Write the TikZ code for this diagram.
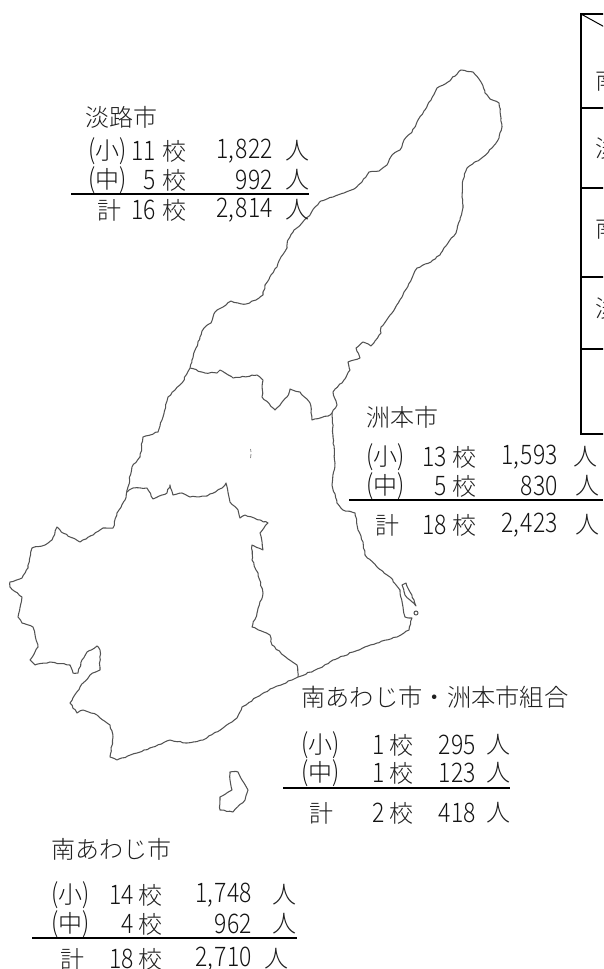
\documentclass[tikz,border=0pt]{standalone}
\usepackage{fontspec}
\usetikzlibrary{decorations.pathmorphing}
\newfontfamily\jpf{Noto Sans CJK JP Light}
\newfontfamily\numf[FakeStretch=0.85]{Noto Sans CJK JP Light}
\newcommand{\kj}[1]{{\fontsize{24}{25}\jpf #1}}
\newcommand{\cm}{,\kern1.5pt }
\tikzset{
  coast/.style={draw=black!68,line width=1.05pt,line join=round,decorate,decoration={random steps,segment length=3.2pt,amplitude=0.6pt}},
  rulel/.style={draw=black,line width=1.6pt},
  tbl/.style={draw=black,line width=1.5pt},
  jt/.style={inner sep=0pt,font=\fontsize{24}{25}\jpf,text=black!88},
  nt/.style={inner sep=0pt,font=\fontsize{27}{28}\numf,text=black!92},
}
\begin{document}
\begin{tikzpicture}[x=1pt,y=-1pt]
\useasboundingbox (0,0) rectangle (603,969);
\begin{scope}
\clip (0,0) rectangle (603,969);
% map
\path[coast] (190,368) -- (192,360) -- (196,348) -- (200,337) -- (204,328) -- (211,323) -- (215,312) -- (223,307) -- (231,301) -- (238,303) -- (246,304) -- (256,300) -- (263,295) -- (265,285) -- (271,275) -- (277,267) -- (281,257) -- (287,248) -- (288,240) -- (294,230) -- (302,223) -- (310,215) -- (315,207) -- (321,201) -- (333,197) -- (344,193) -- (354,189) -- (362,182) -- (369,172) -- (379,171) -- (387,165) -- (392,155) -- (400,150) -- (404,140) -- (412,132) -- (417,122) -- (425,110) -- (431,100) -- (437,88) -- (448,82) -- (461,70) -- (473,72) -- (481,82) -- (485,93) -- (490,99) -- (499,103) -- (501,118) -- (502,127) -- (499,138) -- (492,148) -- (483,157) -- (467,168) -- (463,180) -- (462,197) -- (463,205) -- (460,220) -- (456,233) -- (448,243) -- (440,255) -- (431,262) -- (417,268) -- (412,278) -- (402,297) -- (392,313) -- (381,327) -- (381,333) -- (371,346) -- (363,342) -- (356,348) -- (360,358) -- (348,362) -- (350,370) -- (344,380) -- (333,392) -- (337,405) -- (332,413) -- (333,437) -- (335,463) -- (332,485) -- (337,503) -- (343,510) -- (355,513) -- (358,530) -- (363,542) -- (365,555) -- (377,567) -- (390,577) -- (400,590) -- (403,607) -- (405,617) -- (412,618) -- (409,630) -- (397,637) -- (377,643) -- (353,652) -- (333,660) -- (320,668) -- (298,677) -- (292,680) -- (273,688) -- (257,697) -- (242,707) -- (237,718) -- (223,728) -- (203,740) -- (187,743) -- (170,740) -- (153,747) -- (137,753) -- (117,760) -- (110,757) -- (113,737) -- (110,725) -- (97,715) -- (83,710) -- (77,713) -- (70,703) -- (80,687) -- (90,675) -- (100,670) -- (100,650) -- (97,646) -- (87,652) -- (82,660) -- (78,673) -- (73,673) -- (70,665) -- (50,662) -- (35,665) -- (30,660) -- (35,652) -- (38,647) -- (33,627) -- (22,623) -- (18,617) -- (22,597) -- (10,587) -- (10,582) -- (22,578) -- (28,568) -- (32,548) -- (45,545) -- (52,540) -- (57,527) -- (63,533) -- (80,542) -- (93,535) -- (103,528) -- (113,528) -- (117,513) -- (125,500) -- (128,487) -- (132,467) -- (140,457) -- (143,437) -- (158,432) -- (163,417) -- (168,397) -- (182,383) -- cycle;
% boundaries
\path[coast] (190,368) -- (205,373) -- (217,373) -- (220,370) -- (233,378) -- (257,375) -- (263,380) -- (262,397) -- (275,410) -- (287,397) -- (290,389) -- (300,392) -- (310,403) -- (312,420) -- (330,415) -- (332,413);
\path[coast] (127,492) -- (133,488) -- (147,488) -- (153,499) -- (167,493) -- (170,485) -- (173,495) -- (182,493) -- (190,497) -- (207,496) -- (222,488) -- (226,483) -- (230,502) -- (238,510) -- (240,518) -- (245,515) -- (268,523) -- (260,533) -- (263,550) -- (252,545) -- (252,560) -- (258,573) -- (263,593) -- (257,613) -- (252,627) -- (270,635) -- (272,645) -- (283,655) -- (297,665) -- (298,677);
% islets
\path[coast] (402,585) -- (406,583) -- (410,592) -- (414,600) -- (416,606) -- (410,600) -- (405,595) -- cycle;
\draw[black!68,line width=1pt] (416,613) circle (2);
\path[coast] (230,772) -- (238,772) -- (248,790) -- (245,800) -- (233,812) -- (220,810) -- (220,797) -- (232,790) -- (230,780) -- cycle;
\draw[black!45,line width=0.8pt] (250.5,449) -- (251,452) (251,454) -- (250.5,458);
% table
\draw[tbl] (581,14) rectangle (620,434);
\draw[tbl] (581,108) -- (620,108) (581,188) -- (620,188) (581,277) -- (620,277) (581,349) -- (620,349);
\draw[line width=1pt] (581,14) -- (610,30);
\node[jt,anchor=west] (t1) at (595,80) {南};
\node[jt,anchor=west] (t2) at (595,148) {淡};
\node[jt,anchor=west] (t3) at (595,228) {南};
\node[jt,anchor=west] (t4) at (595,308) {淡};
\end{scope}
% Awaji
\node[jt,anchor=west] (a0) at (85,117) {淡路市};
\node[nt,anchor=west] (a1p) at (88,151) {(\kj{小})};
\node[nt,anchor=east] (a1n) at (156,151) {11};
\node[jt,anchor=west] (a1k) at (162,151) {校};
\node[nt,anchor=east] (a1v) at (273,151) {1\cm 822};
\node[jt,anchor=west] (a1h) at (285,151) {人};
\node[nt,anchor=west] (a2p) at (88,180) {(\kj{中})};
\node[nt,anchor=east] (a2n) at (156,180) {5};
\node[jt,anchor=west] (a2k) at (162,180) {校};
\node[nt,anchor=east] (a2v) at (273,180) {992};
\node[jt,anchor=west] (a2h) at (285,180) {人};
\coordinate (a3l) at (71,194); \coordinate (a3r) at (309,194);
\draw[rulel] (a3l) -- (a3r);
\node[jt,anchor=west] (a4p) at (97,210) {計};
\node[nt,anchor=east] (a4n) at (156,210) {16};
\node[jt,anchor=west] (a4k) at (162,210) {校};
\node[nt,anchor=east] (a4v) at (273,210) {2\cm 814};
\node[jt,anchor=west] (a4h) at (285,210) {人};
% Sumoto
\node[jt,anchor=west] (s0) at (366,417) {洲本市};
\node[nt,anchor=west] (s1p) at (366,457) {(\kj{小})};
\node[nt,anchor=east] (s1n) at (447,457) {13};
\node[jt,anchor=west] (s1k) at (452,457) {校};
\node[nt,anchor=east] (s1v) at (558,457) {1\cm 593};
\node[jt,anchor=west] (s1h) at (573,457) {人};
\node[nt,anchor=west] (s2p) at (366,486) {(\kj{中})};
\node[nt,anchor=east] (s2n) at (447,486) {5};
\node[jt,anchor=west] (s2k) at (452,486) {校};
\node[nt,anchor=east] (s2v) at (558,486) {830};
\node[jt,anchor=west] (s2h) at (575,486) {人};
\coordinate (s3l) at (349,500); \coordinate (s3r) at (603,500);
\draw[rulel] (s3l) -- (s3r);
\node[jt,anchor=west] (s4p) at (375,525) {計};
\node[nt,anchor=east] (s4n) at (447,525) {18};
\node[jt,anchor=west] (s4k) at (452,525) {校};
\node[nt,anchor=east] (s4v) at (558,525) {2\cm 423};
\node[jt,anchor=west] (s4h) at (575,525) {人};
% Kumiai
\node[jt,anchor=west,font=\fontsize{24.3}{25}\jpf] (k0) at (301,697) {南あわじ市・洲本市組合};
\node[nt,anchor=west] (k1p) at (301,745) {(\kj{小})};
\node[nt,anchor=east] (k1n) at (385,745) {1};
\node[jt,anchor=west] (k1k) at (389,745) {校};
\node[nt,anchor=east] (k1v) at (476,745) {295};
\node[jt,anchor=west] (k1h) at (486,745) {人};
\node[nt,anchor=west] (k2p) at (301,773) {(\kj{中})};
\node[nt,anchor=east] (k2n) at (385,773) {1};
\node[jt,anchor=west] (k2k) at (389,773) {校};
\node[nt,anchor=east] (k2v) at (476,773) {123};
\node[jt,anchor=west] (k2h) at (486,773) {人};
\coordinate (k3l) at (283,788); \coordinate (k3r) at (510,788);
\draw[rulel] (k3l) -- (k3r);
\node[jt,anchor=west] (k4p) at (309,813) {計};
\node[nt,anchor=east] (k4n) at (385,813) {2};
\node[jt,anchor=west] (k4k) at (389,813) {校};
\node[nt,anchor=east] (k4v) at (476,813) {418};
\node[jt,anchor=west] (k4h) at (486,813) {人};
% Minamiawaji
\node[jt,anchor=west] (m0) at (51,849) {南あわじ市};
\node[nt,anchor=west] (m1p) at (51,895) {(\kj{小})};
\node[nt,anchor=east] (m1n) at (134,895) {14};
\node[jt,anchor=west] (m1k) at (138,895) {校};
\node[nt,anchor=east] (m1v) at (252,895) {1\cm 748};
\node[jt,anchor=west] (m1h) at (272,895) {人};
\node[nt,anchor=west] (m2p) at (51,924) {(\kj{中})};
\node[nt,anchor=east] (m2n) at (134,924) {4};
\node[jt,anchor=west] (m2k) at (138,924) {校};
\node[nt,anchor=east] (m2v) at (252,924) {962};
\node[jt,anchor=west] (m2h) at (272,924) {人};
\coordinate (m3l) at (32,938); \coordinate (m3r) at (297,938);
\draw[rulel] (m3l) -- (m3r);
\node[jt,anchor=west] (m4p) at (60,959) {計};
\node[nt,anchor=east] (m4n) at (134,959) {18};
\node[jt,anchor=west] (m4k) at (138,959) {校};
\node[nt,anchor=east] (m4v) at (252,959) {2\cm 710};
\node[jt,anchor=west] (m4h) at (264,959) {人};
\end{tikzpicture}
\end{document}
